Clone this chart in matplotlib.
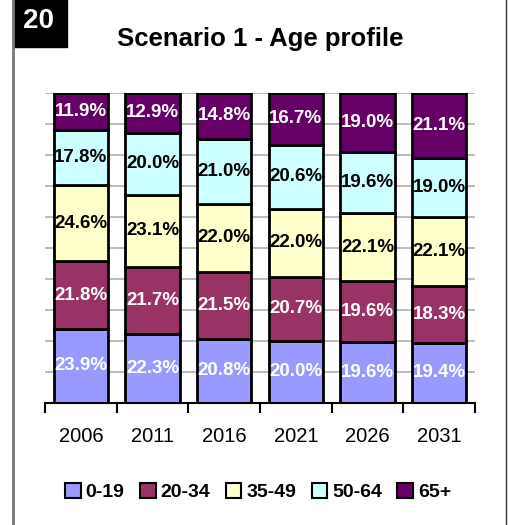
import numpy as np
import matplotlib
matplotlib.use('Agg')
import matplotlib.pyplot as plt
from matplotlib.patches import Rectangle
from matplotlib.lines import Line2D

plt.rcParams['font.family'] = ['Liberation Sans', 'DejaVu Sans']

#%% data
years = ['2006', '2011', '2016', '2021', '2026', '2031']
groups = ['0-19', '20-34', '35-49', '50-64', '65+']
age_0_19 = [23.9, 22.3, 20.8, 20.0, 19.6, 19.4]
age_20_34 = [21.8, 21.7, 21.5, 20.7, 19.6, 18.3]
age_35_49 = [24.6, 23.1, 22.0, 22.0, 22.1, 22.1]
age_50_64 = [17.8, 20.0, 21.0, 20.6, 19.6, 19.0]
age_65 = [11.9, 12.9, 14.8, 16.7, 19.0, 21.1]

colors = ['#9999FF', '#993366', '#FFFFCC', '#CCFFFF', '#660066']
text_colors = ['white', 'white', 'black', 'black', 'white']

#%% plot
W, H = 509, 525
fig = plt.figure(figsize=(W / 100, H / 100), dpi=100)
ax = fig.add_axes([45 / W, 1 - 403 / H, 430 / W, 310 / H])

vals = np.array([age_0_19, age_20_34, age_35_49, age_50_64, age_65])
shares = vals / vals.sum(axis=0) * 100
x = np.arange(len(years))

bottom = np.zeros(len(years))
for i in range(len(groups)):
    ax.bar(x, shares[i], bottom=bottom, width=0.76, color=colors[i],
           edgecolor='black', linewidth=2, zorder=3)
    for j in range(len(years)):
        ax.text(x[j], bottom[j] + shares[i][j] / 2, '%.1f%%' % vals[i][j],
                ha='center', va='center', fontsize=13.5, fontweight='bold',
                color=text_colors[i], zorder=4)
    bottom = bottom + shares[i]

ax.set_xlim(-0.5, len(years) - 0.5)
ax.set_ylim(0, 100)
ax.set_yticks(np.arange(0, 101, 10))
ax.yaxis.grid(True, color='#b0b0b0', linewidth=1.2, zorder=0)
ax.tick_params(axis='y', length=0, labelleft=False)
for s in ['left', 'right', 'top']:
    ax.spines[s].set_visible(False)
ax.spines['bottom'].set_linewidth(1.5)
ax.spines['bottom'].set_zorder(5)

# category boundary ticks
ax.set_xticks(np.arange(-0.5, len(years), 1))
ax.set_xticklabels([])
ax.tick_params(axis='x', direction='out', length=7, width=1.5, pad=8)
ax.set_xticks(x, minor=True)
ax.set_xticklabels(years, minor=True, fontsize=14.5)
ax.tick_params(axis='x', which='minor', length=0, pad=17)

# title and number box
fig.text(260 / W, 1 - 39 / H, 'Scenario 1 - Age profile', ha='center',
         va='center', fontsize=18.5, fontweight='bold')
fig.patches.append(Rectangle((13 / W, 1 - 47 / H), 54 / W, 47 / H,
                             transform=fig.transFigure, color='black'))
fig.text(38.5 / W, 1 - 21 / H, '20', ha='center', va='center', fontsize=20,
         fontweight='bold', color='white')

# frame lines
fig.lines.append(Line2D([13 / W, 13 / W], [0, 1], transform=fig.transFigure,
                        color='#777777', linewidth=2))
fig.lines.append(Line2D([506 / W, 506 / W], [0, 1], transform=fig.transFigure,
                        color='#333333', linewidth=1))

# legend
handles = [Rectangle((0, 0), 1, 1, facecolor=c, edgecolor='black', linewidth=1.5)
           for c in colors]
fig.legend(handles, groups, loc='center', bbox_to_anchor=(258 / W, 1 - 492 / H),
           ncol=5, frameon=False, handlelength=0.8, handleheight=0.8,
           handletextpad=0.25, columnspacing=0.8,
           prop={'weight': 'bold', 'size': 14})

fig.savefig('out.png', dpi=100)
